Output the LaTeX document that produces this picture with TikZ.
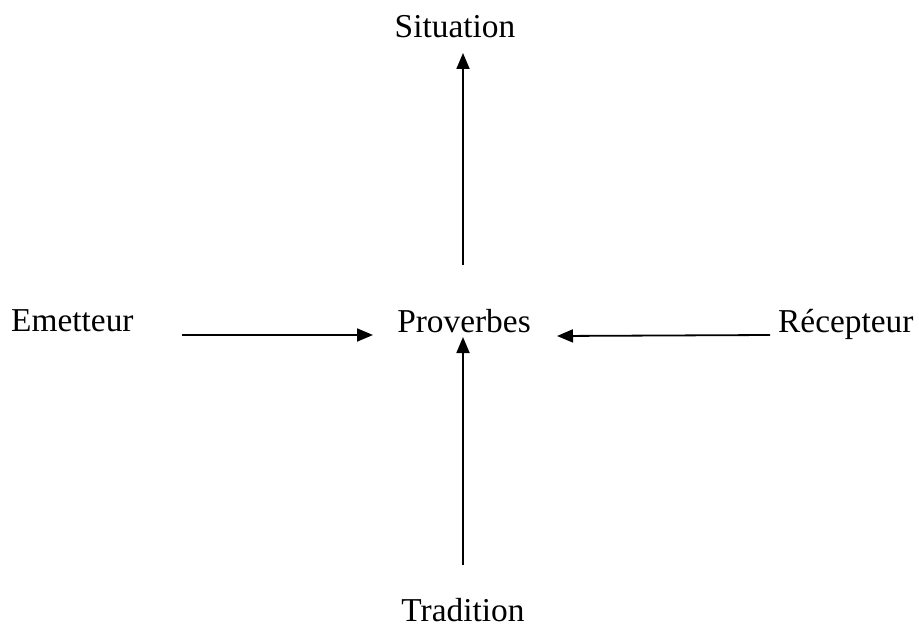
\documentclass[tikz,border=0pt]{standalone}
\usepackage{fontspec}
\setmainfont{Liberation Serif}
\usetikzlibrary{arrows.meta}
\begin{document}
\begin{tikzpicture}[x=1bp,y=-1bp,
  lbl/.style={font=\fontsize{33.5}{38}\selectfont, anchor=base, inner sep=0pt},
  arr/.style={line width=1.8bp, -{Triangle[length=16bp,width=13bp]}}]
\useasboundingbox (0,0) rectangle (919,627);
\node[lbl] (sit) at (455,38) {Situation};
\node[lbl] (prov) at (464,332) {Proverbes};
\node[lbl, anchor=base west] (em) at (11,331) {Emetteur};
\node[lbl, anchor=base west] (rec) at (778,332) {Récepteur};
\node[lbl] (trad) at (463,621) {Tradition};
\coordinate (s0) at (463,265);
\coordinate (s1) at (463,53);
\coordinate (e0) at (182,335);
\coordinate (e1) at (373,335);
\coordinate (r0) at (770,335);
\coordinate (r1) at (557,336);
\coordinate (t0) at (463,565);
\coordinate (t1) at (463,337);
\draw[arr] (s0) -- (s1);
\draw[arr] (e0) -- (e1);
\draw[arr] (r0) -- (r1);
\draw[arr] (t0) -- (t1);
\end{tikzpicture}
\end{document}
